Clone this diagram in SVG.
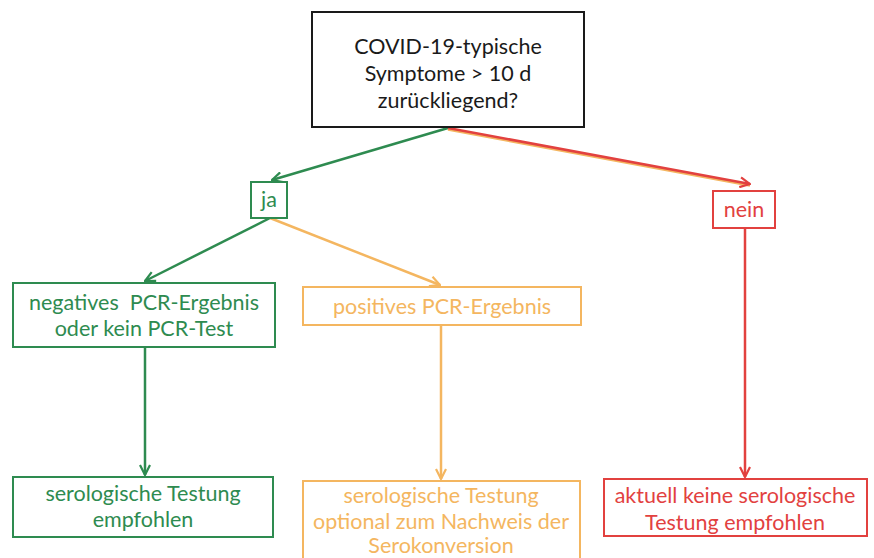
<svg xmlns="http://www.w3.org/2000/svg" width="874" height="558" viewBox="0 0 874 558">
  <style>
    text { font-family: Lato, "Open Sans", "Liberation Sans", sans-serif; font-size: 21.5px; text-anchor: middle; dominant-baseline: central; }
    .box { fill: #ffffff; stroke-width: 2; }
    .k { stroke: #1a1a1a; }
    .g { stroke: #2e8b50; }
    .o { stroke: #f4b660; }
    .r { stroke: #e2413f; }
    .tk { fill: #1a1a1a; }
    .tg { fill: #2e8b50; }
    .to { fill: #f4b660; }
    .tr { fill: #e2413f; }
    .edge { fill: none; stroke-width: 2.5; }
  </style>
  <defs>
    <marker id="ag" viewBox="0 0 12 12" refX="11" refY="6" markerWidth="12" markerHeight="12" markerUnits="userSpaceOnUse" orient="auto">
      <path d="M1,1 L11,6 L1,11" fill="none" stroke="#2e8b50" stroke-width="2.2"/>
    </marker>
    <marker id="ao" viewBox="0 0 12 12" refX="11" refY="6" markerWidth="12" markerHeight="12" markerUnits="userSpaceOnUse" orient="auto">
      <path d="M1,1 L11,6 L1,11" fill="none" stroke="#f4b660" stroke-width="2.2"/>
    </marker>
    <marker id="ar" viewBox="0 0 12 12" refX="11" refY="6" markerWidth="12" markerHeight="12" markerUnits="userSpaceOnUse" orient="auto">
      <path d="M1,1 L11,6 L1,11" fill="none" stroke="#e2413f" stroke-width="2.2"/>
    </marker>
  </defs>
  <rect width="874" height="558" fill="#ffffff"/>

  <g id="connectors">
    <line class="edge g" x1="448" y1="128" x2="272" y2="180" marker-end="url(#ag)"/>
    <line class="edge" x1="448" y1="129.5" x2="750" y2="185.5" stroke="#f4b660" stroke-width="1.5"/>
    <line class="edge r" x1="448" y1="128" x2="750" y2="184" marker-end="url(#ar)"/>
    <line class="edge g" x1="270" y1="218" x2="145" y2="281" marker-end="url(#ag)"/>
    <line class="edge o" x1="270" y1="218" x2="440" y2="285" marker-end="url(#ao)"/>
    <line class="edge g" x1="145" y1="347" x2="145" y2="475" marker-end="url(#ag)"/>
    <line class="edge o" x1="441" y1="325" x2="441" y2="479" marker-end="url(#ao)"/>
    <line class="edge r" x1="745" y1="228" x2="745" y2="477" marker-end="url(#ar)"/>
  </g>

  <g id="frage">
    <rect class="box k" x="312" y="12" width="272" height="115"/>
    <text class="tk" x="448" y="46">COVID-19-typische</text>
    <text class="tk" x="448" y="73">Symptome &gt; 10 d</text>
    <text class="tk" x="448" y="100">zurückliegend?</text>
  </g>

  <g id="ja">
    <rect class="box g" x="251" y="182" width="36" height="36"/>
    <text class="tg" x="269" y="199">ja</text>
  </g>

  <g id="nein">
    <rect class="box r" x="713" y="191" width="62" height="37"/>
    <text class="tr" x="744" y="209">nein</text>
  </g>

  <g id="pcr-negativ">
    <rect class="box g" x="13" y="283" width="262" height="64"/>
    <text class="tg" x="144" y="302" xml:space="preserve">negatives  PCR-Ergebnis</text>
    <text class="tg" x="144" y="328">oder kein PCR-Test</text>
  </g>

  <g id="pcr-positiv">
    <rect class="box o" x="303" y="287" width="278" height="38"/>
    <text class="to" x="442" y="306">positives PCR-Ergebnis</text>
  </g>

  <g id="testung-empfohlen">
    <rect class="box g" x="13" y="477" width="260" height="60"/>
    <text class="tg" x="143" y="493">serologische Testung</text>
    <text class="tg" x="143" y="519">empfohlen</text>
  </g>

  <g id="testung-optional">
    <rect class="box o" x="303" y="481" width="277" height="90"/>
    <text class="to" x="441" y="495">serologische Testung</text>
    <text class="to" x="441" y="521">optional zum Nachweis der</text>
    <text class="to" x="441" y="545">Serokonversion</text>
  </g>

  <g id="keine-testung">
    <rect class="box r" x="604" y="479" width="263" height="57"/>
    <text class="tr" x="735" y="495">aktuell keine serologische</text>
    <text class="tr" x="735" y="522">Testung empfohlen</text>
  </g>
</svg>
